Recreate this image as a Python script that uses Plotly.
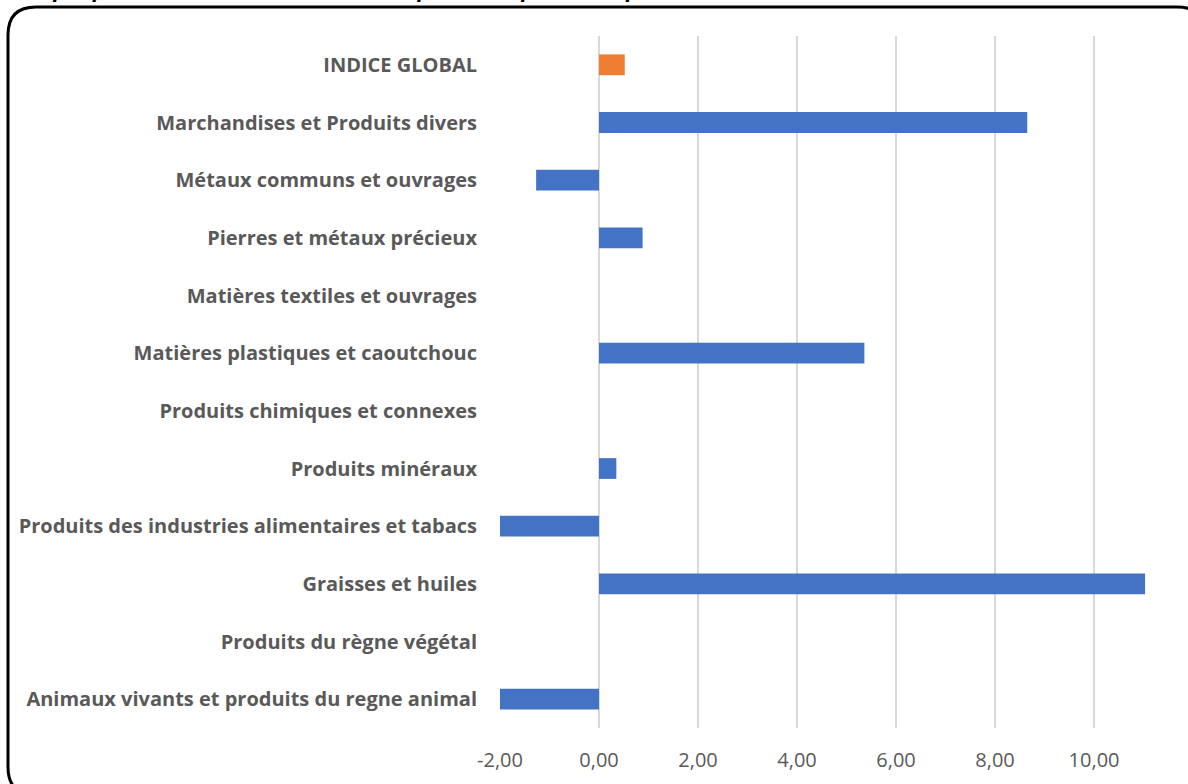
import plotly.graph_objects as go

categories = [
    "Animaux vivants et produits du regne animal",
    "Produits du règne végétal",
    "Graisses et huiles",
    "Produits des industries alimentaires et tabacs",
    "Produits minéraux",
    "Produits chimiques et connexes",
    "Matières plastiques et caoutchouc",
    "Matières textiles et ouvrages",
    "Pierres et métaux précieux",
    "Métaux communs et ouvrages",
    "Marchandises et Produits divers",
    "INDICE GLOBAL",
]
values = [-2.0, None, 11.03, -2.0, 0.35, None, 5.36, None, 0.88, -1.27, 8.65, 0.52]
bar_colors = ["#4472C4"] * 11 + ["#ED7D31"]
tick_vals = [-2, 0, 2, 4, 6, 8, 10]
tick_text = ["-2,00", "0,00", "2,00", "4,00", "6,00", "8,00", "10,00"]
title_text = "Graphique 3 : Evolution mensuelle des prix à l'importation par section"

W, H = 1188, 784
L, R, T, B = 500, 37, 36, 56
PW, PH = W - L - R, H - T - B

def px(x):
    return (x - L) / PW

def py(y):
    return (H - B - y) / PH

fig = go.Figure(go.Bar(
    y=categories, x=values, orientation="h",
    marker=dict(color=bar_colors, line=dict(width=0)),
    width=0.36,
))

# rounded frame
x0, y0, x1, y1, r = 8, 7, 1205, 795, 28
path = (f"M {px(x0+r)},{py(y0)} L {px(x1-r)},{py(y0)} "
        f"Q {px(x1)},{py(y0)} {px(x1)},{py(y0+r)} "
        f"L {px(x1)},{py(y1-r)} Q {px(x1)},{py(y1)} {px(x1-r)},{py(y1)} "
        f"L {px(x0+r)},{py(y1)} Q {px(x0)},{py(y1)} {px(x0)},{py(y1-r)} "
        f"L {px(x0)},{py(y0+r)} Q {px(x0)},{py(y0)} {px(x0+r)},{py(y0)} Z")
fig.add_shape(type="path", path=path, xref="paper", yref="paper",
              line=dict(color="black", width=3), layer="above")

fig.add_annotation(text=f"<b><i>{title_text}</i></b>", xref="paper", yref="paper",
                   x=px(14), y=py(5), xanchor="left", yanchor="bottom",
                   showarrow=False, font=dict(size=22, color="#000000", family="Open Sans"))

fig.update_layout(
    width=W, height=H,
    margin=dict(l=L, r=R, t=T, b=B),
    paper_bgcolor="white", plot_bgcolor="white",
    showlegend=False,
    font=dict(family="Open Sans", color="#595959"),
    xaxis=dict(
        range=[-2, 11.15], tickvals=tick_vals, ticktext=tick_text,
        showgrid=True, gridcolor="#D9D9D9", gridwidth=1.5,
        zeroline=False, showline=False, ticks="",
        tickfont=dict(size=20, color="#595959", family="Open Sans"),
        ticklabelstandoff=18,
    ),
    yaxis=dict(
        categoryorder="array", categoryarray=categories,
        showgrid=False, zeroline=False, showline=False, ticks="",
        tickfont=dict(size=20, color="#595959", family="Open Sans", weight="bold"),
        ticklabelstandoff=22,
    ),
)

fig.write_html("out.html", config={"displayModeBar": False},
               post_script="document.body.style.margin='0';")
